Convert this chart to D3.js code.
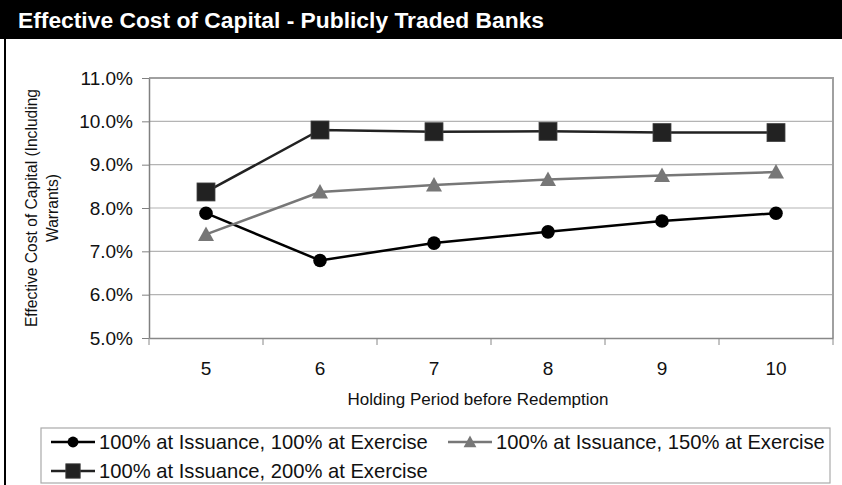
<!DOCTYPE html>
<html>
<head>
<meta charset="utf-8">
<script src="https://cdn.jsdelivr.net/npm/d3@7"></script>
<style>
  body { margin: 0; background: #fff; }
  svg { display: block; font-family: "Liberation Sans", Arial, sans-serif; }
</style>
</head>
<body>
<svg id="chart" width="842" height="485"></svg>
<script>
// data
var periods = [5, 6, 7, 8, 9, 10];
var issue100 = [7.88, 6.79, 7.19, 7.45, 7.70, 7.88];
var issue150 = [7.39, 8.37, 8.53, 8.66, 8.75, 8.83];
var issue200 = [8.37, 9.80, 9.76, 9.77, 9.74, 9.74];
var yTicks = [5, 6, 7, 8, 9, 10, 11];
var seriesNames = ['100% at Issuance, 100% at Exercise', '100% at Issuance, 150% at Exercise', '100% at Issuance, 200% at Exercise'];

var series = [
	{name: seriesNames[0], values: issue100, color: '#000', shape: 'circle'},
	{name: seriesNames[1], values: issue150, color: '#777', shape: 'triangle'},
	{name: seriesNames[2], values: issue200, color: '#222', shape: 'square'}
];

var svg = d3.select('#chart'),
	pad = {top: 78, right: 9, bottom: 147, left: 149},
	W = 842, H = 485,
	plotW = W - pad.left - pad.right,
	plotH = H - pad.top - pad.bottom;

// title bar + left frame
svg.append('rect').attr('x', 0).attr('y', 0).attr('width', W).attr('height', 39).attr('fill', '#000');
svg.append('line').attr('x1', 5).attr('x2', 5).attr('y1', 39).attr('y2', H)
	.attr('stroke', '#000').attr('stroke-width', 2);
svg.append('text').attr('x', 18).attr('y', 28)
	.attr('fill', '#fff').attr('font-weight', 'bold').attr('font-size', 22.5)
	.attr('textLength', 526).attr('lengthAdjust', 'spacingAndGlyphs')
	.text('Effective Cost of Capital - Publicly Traded Banks');

var x = d3.scaleBand().domain(periods).range([0, plotW]).padding(0);
var y = d3.scaleLinear().domain([5, 11]).range([plotH, 0]);

var g = svg.append('g').attr('transform', 'translate(' + pad.left + ',' + pad.top + ')');

// grid
g.selectAll('line.grid').data(yTicks.slice(1, -1)).enter().append('line')
	.attr('class', 'grid')
	.attr('x1', 0).attr('x2', plotW)
	.attr('y1', function (d) {return y(d);}).attr('y2', function (d) {return y(d);})
	.attr('stroke', '#b4b4b4').attr('stroke-width', 1.2);

// plot frame top / right
g.append('path').attr('d', 'M0,0H' + plotW + 'V' + plotH)
	.attr('fill', 'none').attr('stroke', '#a0a0a0').attr('stroke-width', 2);

// y axis
var yAxis = d3.axisLeft(y).tickValues(yTicks).tickSize(7).tickSizeOuter(0).tickPadding(9)
	.tickFormat(function (d) {return d3.format('.1f')(d) + '%';});
var ya = g.append('g').call(yAxis);
ya.select('.domain').attr('stroke', '#808080').attr('stroke-width', 1.5);
ya.selectAll('.tick line').attr('stroke', '#808080');
ya.selectAll('.tick text').attr('font-size', 19).attr('fill', '#111')
	.attr('font-family', '"Liberation Sans", Arial, sans-serif');

// x axis: labels at band centres, ticks at band edges
var xAxis = d3.axisBottom(x).tickSize(0).tickSizeOuter(0).tickPadding(24);
var xa = g.append('g').attr('transform', 'translate(0,' + plotH + ')').call(xAxis);
xa.select('.domain').attr('stroke', '#888').attr('stroke-width', 1.5);
xa.selectAll('.tick text').attr('font-size', 19).attr('fill', '#111')
	.attr('font-family', '"Liberation Sans", Arial, sans-serif');
var edges = periods.map(function (d) {return x(d);}).concat([plotW]);
xa.selectAll('line.edge').data(edges).enter().append('line').attr('class', 'edge')
	.attr('x1', function (d) {return d;}).attr('x2', function (d) {return d;})
	.attr('y1', 0).attr('y2', 7).attr('stroke', '#888').attr('stroke-width', 1);

// axis titles
svg.append('text').attr('x', 478).attr('y', 405).attr('text-anchor', 'middle')
	.attr('font-size', 17).attr('fill', '#111').text('Holding Period before Redemption');
var yt = svg.append('text').attr('transform', 'translate(37,' + (pad.top + plotH / 2) + ') rotate(-90)')
	.attr('text-anchor', 'middle').attr('font-size', 15.6).attr('fill', '#111');
yt.append('tspan').attr('x', 0).attr('y', 0).text('Effective Cost of Capital (Including');
yt.append('tspan').attr('x', 0).attr('y', 21).text('Warrants)');

function marker(sel, shape, color, s) {
	if (shape === 'circle') {
		sel.append('circle').attr('r', 6.8 * s).attr('fill', color);
	} else if (shape === 'square') {
		var h = 9 * s;
		sel.append('rect').attr('x', -h).attr('y', -h).attr('width', 2 * h).attr('height', 2 * h)
			.attr('fill', color).attr('stroke', '#444').attr('stroke-width', 0.8);
	} else {
		var w = 8 * s;
		sel.append('path').attr('d', 'M0,' + (-8 * s) + 'L' + w + ',' + (6.5 * s) + 'L' + (-w) + ',' + (6.5 * s) + 'Z')
			.attr('fill', color);
	}
}

var line = d3.line()
	.x(function (d, i) {return x(periods[i]) + x.bandwidth() / 2;})
	.y(function (d) {return y(d);});

series.forEach(function (s) {
	g.append('path').datum(s.values).attr('d', line)
		.attr('fill', 'none').attr('stroke', s.color).attr('stroke-width', 2.5);
	s.values.forEach(function (v, i) {
		var m = g.append('g').attr('transform', 'translate(' + (x(periods[i]) + x.bandwidth() / 2) + ',' + y(v) + ')');
		marker(m, s.shape, s.color, 1);
	});
});

// legend
var lg = svg.append('g');
lg.append('rect').attr('x', 41).attr('y', 428).attr('width', 789).attr('height', 55)
	.attr('fill', '#fff').attr('stroke', '#aaa').attr('stroke-width', 1.2);
var legendPos = [[51, 442], [448, 442], [51, 471]];
series.forEach(function (s, i) {
	var p = legendPos[i];
	var e = lg.append('g').attr('transform', 'translate(' + p[0] + ',' + p[1] + ')');
	e.append('line').attr('x1', 0).attr('x2', 44).attr('stroke', s.color).attr('stroke-width', 2.5);
	var m = e.append('g').attr('transform', 'translate(22,0)');
	marker(m, s.shape, s.color, 0.8);
	e.append('text').attr('x', 48).attr('y', 0).attr('dy', '0.35em')
		.attr('font-size', 20.2).attr('fill', '#111').text(s.name);
});
</script>
</body>
</html>
